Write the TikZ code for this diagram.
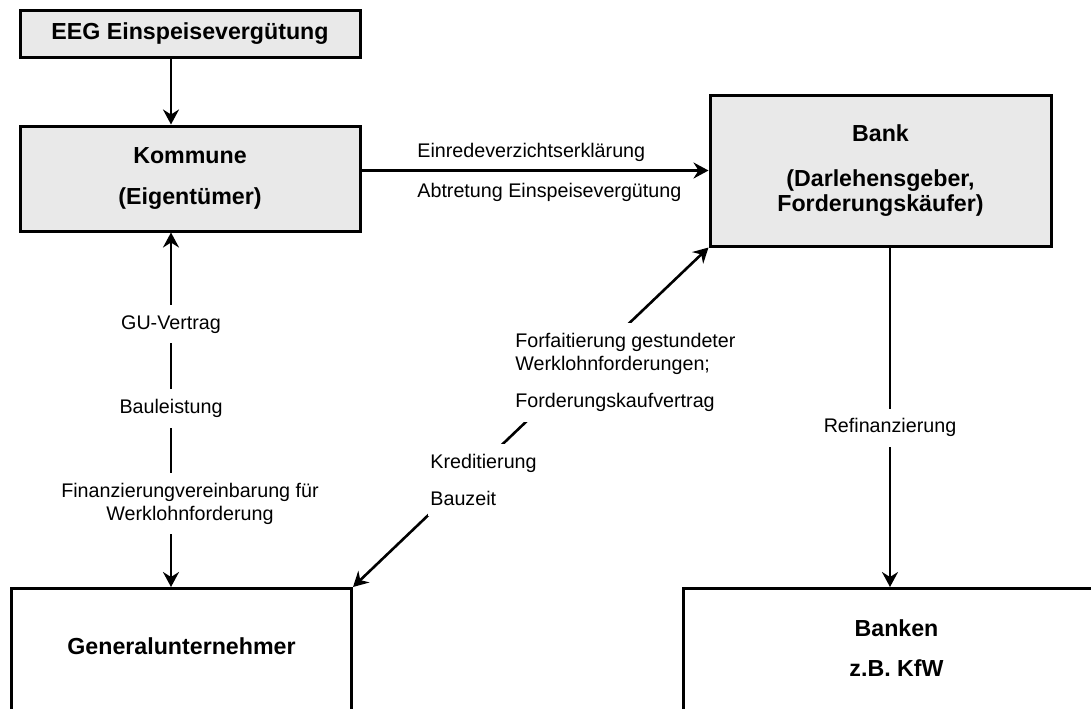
\documentclass[tikz,border=0pt]{standalone}
\usepackage{fontspec}
\setmainfont{Liberation Sans}
\usetikzlibrary{positioning,arrows.meta}

\begin{document}
\begin{tikzpicture}[
  x=0.5pt,y=-0.5pt,
  every node/.style={align=center},
  boxtext/.style={font=\fontsize{11.6}{12.5}\selectfont\bfseries},
  box/.style={rectangle,draw,line width=1.5pt,fill=gray!17,minimum width=170pt,boxtext},
  openbox/.style={box,fill=white,anchor=north west,minimum height=80pt},
  note/.style={font=\fontsize{9.85}{11.5}\selectfont,inner xsep=1pt,inner ysep=5pt,align=left},
  lbl/.style={note,fill=white},
  link/.style={line width=1.3pt,->},
  >={Stealth[length=7.5pt,width=8pt,inset=2.5pt]}
]
\useasboundingbox (0,0) rectangle (1091,708);

\node[box,minimum height=23.5pt] (eeg) at (190,33.5) {EEG Einspeisevergütung};
\node[box,minimum height=52.5pt,below=33pt of eeg] (kom) {Kommune\\[8pt](Eigentümer)};
\node[box,minimum width=170.5pt,minimum height=75.5pt] (bank) at (880.5,170.5)
  {Bank\\[10pt](Darlehensgeber,\\Forderungskäufer)};
\node[openbox,label={[boxtext,anchor=north,inner sep=0pt,yshift=-25pt]north:Generalunternehmer}] (gu) at (10,587) {};
\node[openbox,minimum width=213pt,label={[boxtext,anchor=north,inner sep=0pt,yshift=-16pt]north:{Banken\\[7.5pt]z.B. KfW}}] (banken) at (682,587) {};

\draw[link] ([xshift=-9.5pt]eeg.south) -- ([xshift=-9.5pt]kom.north);

\draw[link] (kom.east |- bank.west) -- (bank.west);
\node[note,anchor=west] (einrede) at (415,152) {Einredeverzichtserklärung};
\node[note,anchor=west] (abtretung) at (415,192) {Abtretung Einspeisevergütung};

\draw[link,<->] ([xshift=-9.5pt]kom.south) -- ([xshift=-9.5pt]kom.south |- gu.north)
  node[lbl,pos=0.259] (guvertrag) {GU-Vertrag}
  node[lbl,pos=0.496] (bauleistung) {Bauleistung}
  node[lbl,pos=0.765,xshift=9.5pt,align=center] (finanz) {Finanzierungvereinbarung für\\Werklohnforderung};

\draw[link,<->] (bank.south west) -- (gu.north east);
\node[lbl,anchor=north west] (forfait) at (513,323)
  {Forfaitierung gestundeter\\Werklohnforderungen;\\[7pt]Forderungskaufvertrag};
\node[lbl,anchor=north west] (kredit) at (428,444) {Kreditierung\\[7pt]Bauzeit};

\draw[link] ([xshift=4.75pt]bank.south) -- ([xshift=4.75pt]bank.south |- banken.north)
  node[lbl,pos=0.531] (refi) {Refinanzierung};
\end{tikzpicture}
\end{document}
